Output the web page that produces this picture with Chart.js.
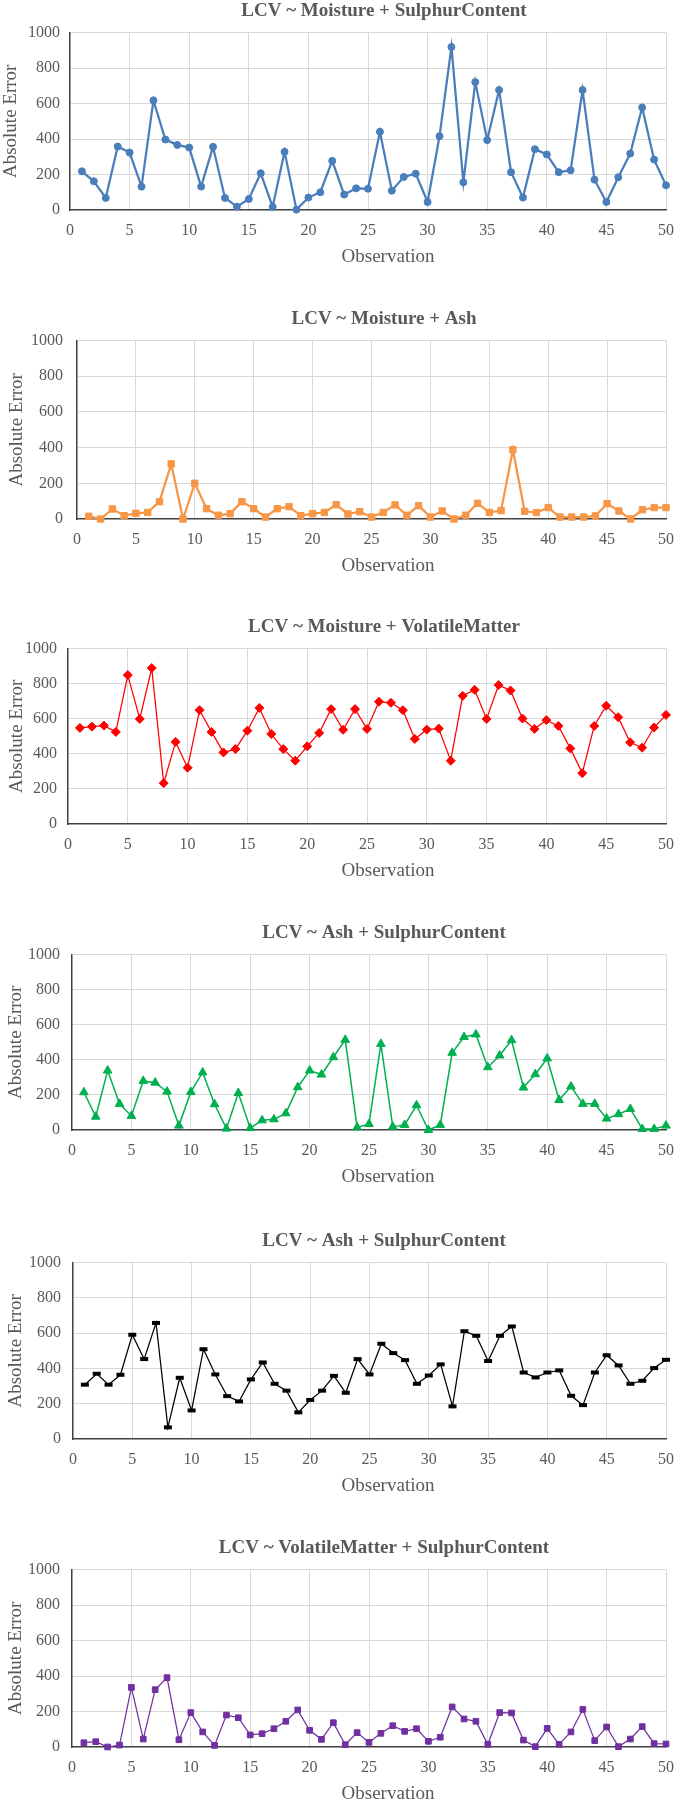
<!DOCTYPE html>
<html>
<head>
<meta charset="utf-8">
<script src="https://cdn.jsdelivr.net/npm/chart.js@4.4.1/dist/chart.umd.min.js"></script>
<style>
html, body { margin: 0; padding: 0; background: #fff; overflow: hidden; width: 685px; height: 1804px; }
.box { position: absolute; left: 0; width: 685px; }
</style>
</head>
<body>
<div class="box" id="b0"><canvas id="c0"></canvas></div>
<div class="box" id="b1"><canvas id="c1"></canvas></div>
<div class="box" id="b2"><canvas id="c2"></canvas></div>
<div class="box" id="b3"><canvas id="c3"></canvas></div>
<div class="box" id="b4"><canvas id="c4"></canvas></div>
<div class="box" id="b5"><canvas id="c5"></canvas></div>
<script>
// observation numbers (x) and absolute errors (y)
const observation = [1, 2, 3, 4, 5, 6, 7, 8, 9, 10, 11, 12, 13, 14, 15, 16, 17, 18, 19, 20,
    21, 22, 23, 24, 25, 26, 27, 28, 29, 30, 31, 32, 33, 34, 35, 36, 37, 38, 39, 40,
    41, 42, 43, 44, 45, 46, 47, 48, 49, 50];

const errMoistureSulphur = [218, 162, 68, 358, 324, 132, 618, 397, 367, 352,
    132, 356, 68, 19, 62, 207, 17, 328, 2, 70,
    100, 277, 87, 122, 120, 441, 109, 186, 205, 45,
    416, 919, 156, 721, 394, 676, 213, 70, 343, 313,
    213, 224, 676, 171, 45, 185, 318, 578, 284, 139];

const errMoistureAsh = [15, 0, 56, 19, 32, 37, 97, 309, 0, 200,
    58, 21, 30, 97, 58, 11, 58, 69, 19, 30,
    37, 80, 28, 41, 11, 37, 79, 21, 75, 11,
    45, 0, 21, 88, 37, 47, 388, 43, 36, 64,
    11, 11, 11, 17, 86, 45, 0, 52, 64, 64];

const errMoistureVolatile = [548, 555, 561, 525, 849, 599, 889, 233, 468, 321,
    649, 525, 408, 427, 532, 662, 513, 427, 361, 443,
    519, 655, 537, 655, 542, 697, 691, 649, 485, 538,
    544, 361, 731, 765, 599, 792, 761, 601, 542, 592,
    559, 431, 290, 559, 674, 609, 466, 435, 550, 622];

const errAshSulphurA = [215, 76, 339, 149, 80, 280, 270, 219, 25, 217,
    328, 147, 8, 211, 11, 55, 61, 95, 244, 339,
    316, 415, 514, 15, 34, 491, 19, 29, 141, 0,
    29, 440, 530, 545, 358, 425, 512, 242, 318, 408,
    171, 248, 149, 149, 65, 90, 120, 6, 6, 25];

const errAshSulphurB = [308, 370, 308, 364, 591, 453, 658, 66, 347, 162,
    509, 366, 243, 213, 338, 434, 313, 274, 151, 221,
    274, 358, 262, 453, 366, 540, 487, 447, 313, 360,
    423, 185, 611, 585, 442, 585, 638, 377, 349, 377,
    389, 245, 192, 377, 475, 417, 313, 330, 402, 449];

const errVolatileSulphur = [24, 30, 0, 11, 336, 45, 323, 391, 41, 194,
    85, 9, 180, 165, 68, 75, 103, 145, 209, 94,
    43, 137, 13, 81, 26, 77, 120, 88, 103, 32,
    55, 226, 158, 145, 15, 194, 192, 39, 2, 105,
    15, 85, 212, 36, 113, 2, 45, 115, 19, 17];

const fontFamily = "'Liberation Serif', 'Times New Roman', serif";
const textGray = '#595959';
const gridGray = '#d9d9d9';
const titleCenterX = 384;   // chart titles sit a bit right of the plot centre
const xTitleCenterX = 388;

const panels = [
    { title: 'LCV ~ Moisture + SulphurContent', values: errMoistureSulphur,
      color: '#4a7ebb', style: 'circle', radius: 3.5, lineWidth: 2.25, pointBorder: 1,
      top: 0, height: 268, axisX: 70, tickPad: 10, yTitlePad: 0 },
    { title: 'LCV ~ Moisture + Ash', values: errMoistureAsh,
      color: '#f79646', style: 'rect', radius: 4.5, lineWidth: 2.25, pointBorder: 1,
      top: 308, height: 269, axisX: 77, tickPad: 14, yTitlePad: 6 },
    { title: 'LCV ~ Moisture + VolatileMatter', values: errMoistureVolatile,
      color: '#ff0000', style: 'rectRot', radius: 4.5, lineWidth: 1.25, pointBorder: 1,
      top: 616, height: 266, axisX: 68, tickPad: 11, yTitlePad: 6 },
    { title: 'LCV ~ Ash + SulphurContent', values: errAshSulphurA,
      color: '#00b050', style: 'triangle', radius: 5, lineWidth: 1.5, pointBorder: 1,
      top: 922, height: 266, axisX: 72, tickPad: 12, yTitlePad: 5 },
    { title: 'LCV ~ Ash + SulphurContent', values: errAshSulphurB,
      color: '#000000', style: 'line', radius: 4, lineWidth: 1.25, pointBorder: 4,
      top: 1230, height: 267, axisX: 73, tickPad: 12, yTitlePad: 5 },
    { title: 'LCV ~ VolatileMatter + SulphurContent', values: errVolatileSulphur,
      color: '#7030a0', style: 'rect', radius: 4, lineWidth: 1.25, pointBorder: 1,
      top: 1537, height: 268, axisX: 72, tickPad: 12, yTitlePad: 5 },
];

// move the chart title and the x-axis title to where the original has them
const shiftTitles = {
    id: 'shiftTitles',
    afterLayout(chart) {
        const t = chart.titleBlock;
        if (t) {
            const d = titleCenterX - (t.left + t.right) / 2;
            t.left += d;
            t.right += d;
        }
        const sx = chart.scales.x;
        if (!sx._shifted) {
            const orig = sx.drawTitle;
            sx.drawTitle = function () {
                const l = this.left, r = this.right;
                const d = xTitleCenterX - (l + r) / 2;
                this.left += d;
                this.right += d;
                orig.call(this);
                this.left = l;
                this.right = r;
            };
            sx._shifted = true;
        }
    }
};

panels.forEach((p, i) => {
    const box = document.getElementById('b' + i);
    box.style.top = p.top + 'px';
    box.style.height = p.height + 'px';
    const ctx = document.getElementById('c' + i).getContext('2d');
    new Chart(ctx, {
        type: 'line',
        data: {
            datasets: [{
                data: observation.map((o, k) => ({ x: o, y: p.values[k] })),
                borderColor: p.color,
                backgroundColor: p.color,
                pointBackgroundColor: p.color,
                pointBorderColor: p.color,
                borderWidth: p.lineWidth,
                pointStyle: p.style,
                pointRadius: p.radius,
                pointBorderWidth: p.pointBorder,
                tension: 0,
                clip: false,
            }]
        },
        plugins: [shiftTitles],
        options: {
            responsive: true,
            maintainAspectRatio: false,
            animation: false,
            devicePixelRatio: 1,
            layout: { padding: { left: 0, right: 12, top: 0, bottom: 0 } },
            plugins: {
                legend: { display: false },
                tooltip: { enabled: false },
                title: {
                    display: true,
                    text: p.title,
                    color: textGray,
                    fullSize: false,
                    font: { family: fontFamily, size: 19, weight: 'bold' },
                    padding: { top: 0, bottom: 9.8 },
                },
            },
            scales: {
                x: {
                    type: 'linear',
                    min: 0,
                    max: 50,
                    afterFit: s => { s.height = 58; },
                    grid: {
                        drawTicks: false,
                        color: c => c.tick && c.tick.value === 0 ? 'rgba(0,0,0,0)' : gridGray,
                    },
                    border: { display: true, color: '#404040', width: 1.5 },
                    ticks: {
                        stepSize: 5,
                        padding: 11,
                        color: textGray,
                        font: { family: fontFamily, size: 16 },
                        maxRotation: 0,
                        callback: v => String(v),
                    },
                    title: {
                        display: true,
                        text: 'Observation',
                        color: textGray,
                        font: { family: fontFamily, size: 19 },
                        padding: { top: 5, bottom: 0 },
                    },
                },
                y: {
                    type: 'linear',
                    min: 0,
                    max: 1000,
                    afterFit: s => { s.width = p.axisX; },
                    grid: {
                        drawTicks: false,
                        color: c => c.tick && c.tick.value === 0 ? 'rgba(0,0,0,0)' : gridGray,
                    },
                    border: { display: true, color: '#404040', width: 1.5 },
                    ticks: {
                        stepSize: 200,
                        padding: p.tickPad,
                        color: textGray,
                        font: { family: fontFamily, size: 16 },
                        callback: v => String(v),
                    },
                    title: {
                        display: true,
                        text: 'Absolute Error',
                        color: textGray,
                        font: { family: fontFamily, size: 19 },
                        padding: { top: p.yTitlePad, bottom: 0 },
                    },
                },
            },
        }
    });
});
</script>
</body>
</html>
